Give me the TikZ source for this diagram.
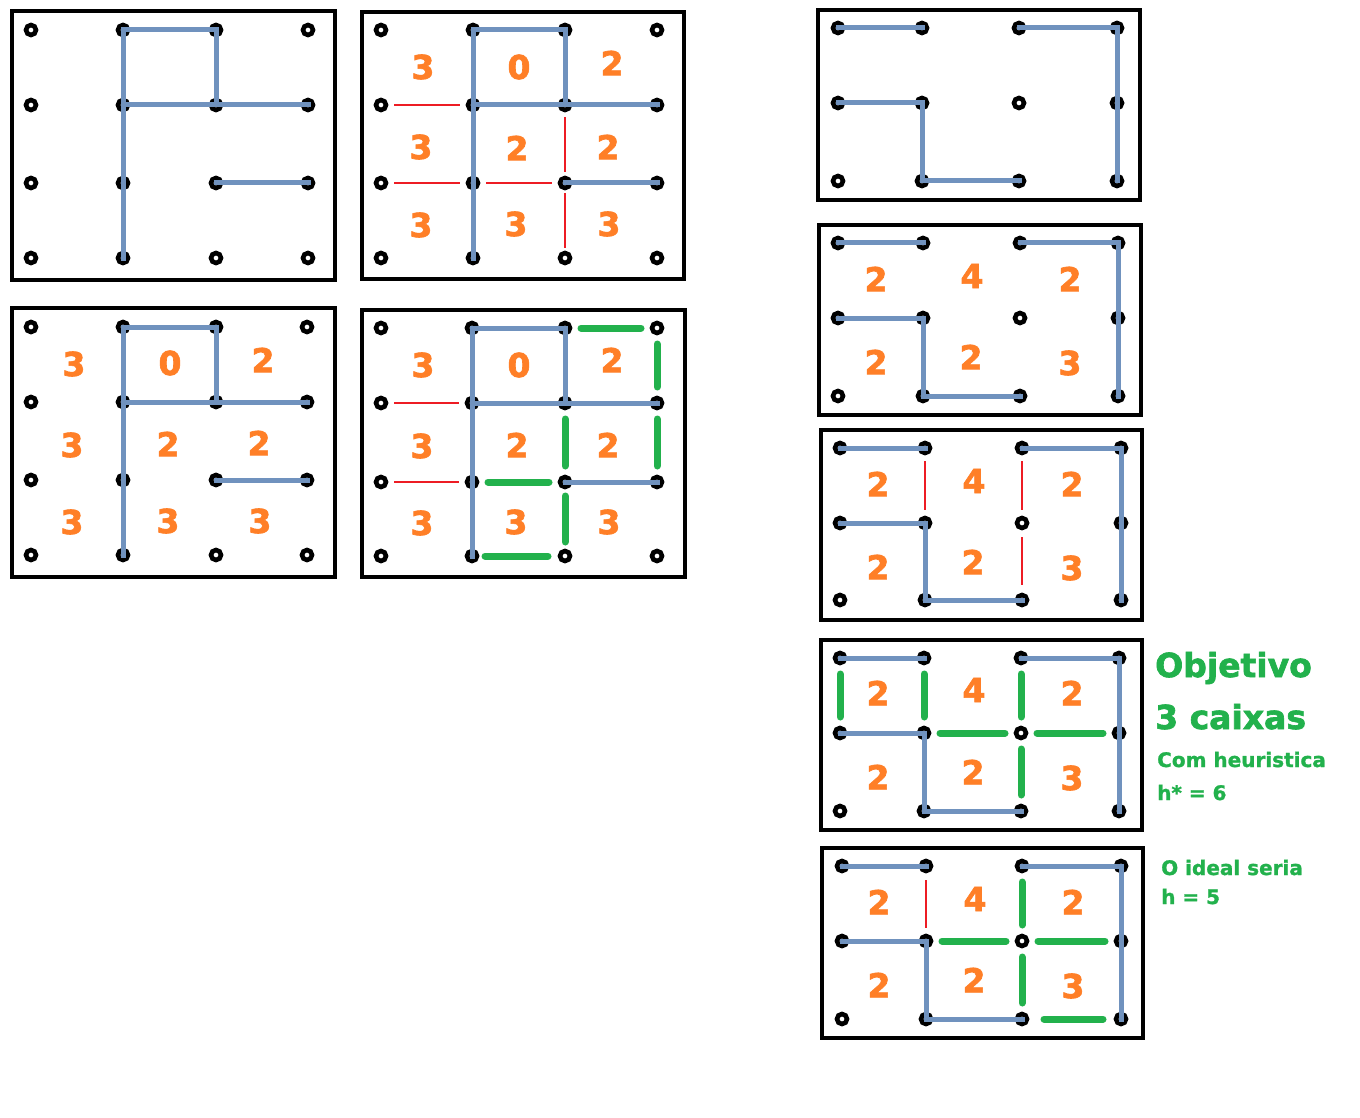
\documentclass[tikz,border=0pt]{standalone}
\usepackage{fontspec}
\setmainfont{DejaVu Sans}
\newfontfamily\heavyfont{DejaVu Sans}[UprightFont={* Bold},FakeBold=2]
\newfontfamily\semiheavyfont{DejaVu Sans}[UprightFont={* Bold},FakeBold=1.2]
\definecolor{pblue}{RGB}{112,146,190}
\definecolor{pred}{RGB}{237,28,36}
\definecolor{pgreen}{RGB}{34,177,76}
\definecolor{porange}{RGB}{255,127,39}
\tikzset{
  frame/.style={draw=black,line width=4.5pt},
  ring/.style={draw=black,fill=white,line width=4.6pt},
  blueline/.style={draw=pblue,line width=5pt,line cap=rect},
  redline/.style={draw=pred,line width=2.5pt,shorten <=13pt,shorten >=13pt},
  greenline/.style={draw=pgreen,line width=7pt,line cap=round,shorten <=16pt,shorten >=16pt},
  num/.style={text=porange,font=\fontsize{33}{33}\heavyfont,inner sep=0pt,anchor=center},
  bignote/.style={text=pgreen,font=\fontsize{33}{33}\heavyfont,inner sep=0pt,anchor=base west},
  smallnote/.style={text=pgreen,font=\fontsize{20}{20}\semiheavyfont,inner sep=0pt,anchor=base west}
}
\newcommand{\mkgrid}[3]{%
  \foreach \xx [count=\i from 0] in {#2}{%
    \foreach \yy [count=\j from 0] in {#3}{%
      \coordinate (#1\i\j) at (\xx,\yy);
      \draw[ring] (\xx,\yy) circle[radius=5pt];
    }%
  }%
}
\newcommand{\leftblue}[1]{%
  \draw[blueline] (#110) -- (#120) -- (#121);
  \draw[blueline] (#110) -- (#113);
  \draw[blueline] (#111) -- (#131);
  \draw[blueline] (#122) -- (#132);
}
\newcommand{\rightblue}[1]{%
  \draw[blueline] (#100) -- (#110);
  \draw[blueline] (#120) -- (#130) -- (#132);
  \draw[blueline] (#101) -- (#111) -- (#112) -- (#122);
}
\newcommand{\nums}[2]{%
  \foreach \x/\y/\t [count=\k] in {#2}{\node[num] (#1n\k) at (\x,\y) {\t};}%
}
\begin{document}
\begin{tikzpicture}[x=1pt,y=-1pt]
\useasboundingbox[fill=white] (0,0) rectangle (1360,1118);

% frames
\draw[frame] (12,11) rectangle (335,280);
\draw[frame] (362,12) rectangle (684,279);
\draw[frame] (12,308) rectangle (335,577);
\draw[frame] (362,310) rectangle (685,577);
\draw[frame] (818,10) rectangle (1140,200);
\draw[frame] (819,225) rectangle (1141,415);
\draw[frame] (821,430) rectangle (1142,620);
\draw[frame] (821,640) rectangle (1142,830);
\draw[frame] (822,848) rectangle (1143,1038);

% dot grids
\mkgrid{A}{31,123,216,308}{30,105,183,258}
\mkgrid{B}{381,473,565,657}{30,105,183,258}
\mkgrid{C}{31,123,216,307}{327,402,480,555}
\mkgrid{D}{381,472,565,657}{328,403,482,556}
\mkgrid{E}{838,922,1019,1117}{28,103,181}
\mkgrid{F}{838,923,1020,1118}{243,318,396}
\mkgrid{G}{840,925,1022,1121}{448,523,600}
\mkgrid{H}{840,924,1021,1119}{658,733,811}
\mkgrid{I}{842,926,1022,1121}{866,941,1019}

% blue lines
\leftblue{A}\leftblue{B}\leftblue{C}\leftblue{D}
\rightblue{E}\rightblue{F}\rightblue{G}\rightblue{H}\rightblue{I}

% red lines
\draw[redline] (B01) -- (B11);
\draw[redline] (B02) -- (B12);
\draw[redline] (B12) -- (B22);
\draw[redline,shorten <=12pt,shorten >=11pt] (B21) -- (B22);
\draw[redline,shorten <=10pt,shorten >=10pt] (B22) -- (B23);
\draw[redline] (D01) -- (D11);
\draw[redline] (D02) -- (D12);
\draw[redline] (G10) -- (G11);
\draw[redline] (G20) -- (G21);
\draw[redline,shorten <=14pt,shorten >=15pt] (G21) -- (G22);
\draw[redline,shorten <=14pt,shorten >=13pt] (I10) -- (I11);

% green lines
\draw[greenline] (D20) -- (D30);
\draw[greenline] (D30) -- (D31);
\draw[greenline] (D21) -- (D22);
\draw[greenline] (D31) -- (D32);
\draw[greenline] (D12) -- (D22);
\draw[greenline,shorten <=14pt,shorten >=14pt] (D22) -- (D23);
\draw[greenline,shorten <=13pt,shorten >=17pt] (D13) -- (D23);
\draw[greenline] (H00) -- (H01);
\draw[greenline] (H10) -- (H11);
\draw[greenline] (H20) -- (H21);
\draw[greenline] (H11) -- (H21);
\draw[greenline] (H21) -- (H31);
\draw[greenline] (H21) -- (H22);
\draw[greenline] (I20) -- (I21);
\draw[greenline] (I11) -- (I21);
\draw[greenline] (I21) -- (I31);
\draw[greenline] (I21) -- (I22);
\draw[greenline,shorten <=22pt,shorten >=18pt] (I22) -- (I32);

% numbers
\nums{B}{423/67/3,519/67/0,612/63/2,421/147/3,517/148/2,608/147/2,421/225/3,516/224/3,609/224/3}
\nums{C}{74/364/3,170/363/0,263/360/2,72/445/3,168/444/2,259/443/2,72/522/3,168/521/3,260/521/3}
\nums{D}{423/365/3,519/365/0,612/360/2,422/446/3,517/445/2,608/445/2,422/523/3,516/522/3,609/522/3}
\nums{F}{876/279/2,972/276/4,1070/279/2,876/362/2,971/357/2,1070/363/3}
\nums{G}{878/484/2,974/481/4,1072/484/2,878/567/2,973/562/2,1072/568/3}
\nums{H}{878/693/2,974/690/4,1072/693/2,878/777/2,973/772/2,1072/778/3}
\nums{I}{879/902/2,975/899/4,1073/902/2,879/985/2,974/980/2,1073/986/3}

% notes
\node[bignote] (obj) at (1155,677) {Objetivo};
\node[bignote] (cx) at (1155,729) {3 caixas};
\node[smallnote] (heur) at (1157,767) {Com heuristica};
\node[smallnote] (hs) at (1157,800) {h* = 6};
\node[smallnote] (ideal) at (1161,875) {O ideal seria};
\node[smallnote] (h5) at (1161,904) {h = 5};
\end{tikzpicture}
\end{document}
